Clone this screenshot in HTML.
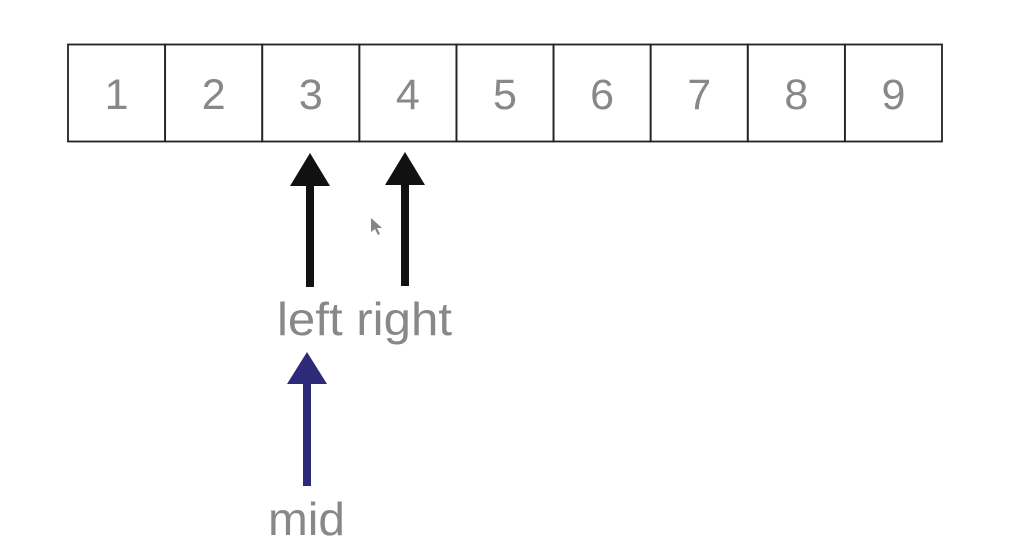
<!DOCTYPE html>
<html><head><meta charset="utf-8">
<style>
html,body{margin:0;padding:0;background:#fff;}
svg{display:block;}
text{font-family:"Liberation Sans",Arial,sans-serif;fill:#888;}
</style></head>
<body>
<svg width="1028" height="552" viewBox="0 0 1028 552">
<g id="cells"></g>
<g>
  <rect x="306" y="178" width="8" height="109" fill="#111"/>
  <polygon points="310,153 290,186 330,186" fill="#111"/>
</g>
<g>
  <rect x="401" y="178" width="8" height="108" fill="#111"/>
  <polygon points="405,152 385,185 425,185" fill="#111"/>
</g>
<polygon points="371,218 371,232 375,229 378,235 380,234 377,228 382,228" fill="#666" opacity="0.8"/>
<text x="277" y="335" font-size="46" textLength="175" lengthAdjust="spacingAndGlyphs">left right</text>
<g>
  <rect x="303" y="376" width="8" height="110" fill="#2e2a7a"/>
  <polygon points="307,352 287,384 327,384" fill="#2e2a7a"/>
</g>
<text x="268" y="535" font-size="46" textLength="77" lengthAdjust="spacingAndGlyphs">mid</text>
</svg>
<script>
const values=[1,2,3,4,5,6,7,8,9];
const g=document.getElementById('cells');
const x0=68,y0=44.5,w=(942-68)/values.length,h=97;
const ns='http://www.w3.org/2000/svg';
values.forEach((v,i)=>{
  const r=document.createElementNS(ns,'rect');
  
  
  r.setAttribute('x',x0+i*w);r.setAttribute('y',y0);
  r.setAttribute('width',w);r.setAttribute('height',h);
  r.setAttribute('fill','none');r.setAttribute('stroke','#222');r.setAttribute('stroke-width','1.8');
  g.appendChild(r);
  const t=document.createElementNS(ns,'text');
  
  
  t.setAttribute('x',x0+i*w+w/2);t.setAttribute('y',109);
  t.setAttribute('text-anchor','middle');t.setAttribute('font-size','43');
  t.textContent=v;
  g.appendChild(t);
});
</script>
</body></html>
